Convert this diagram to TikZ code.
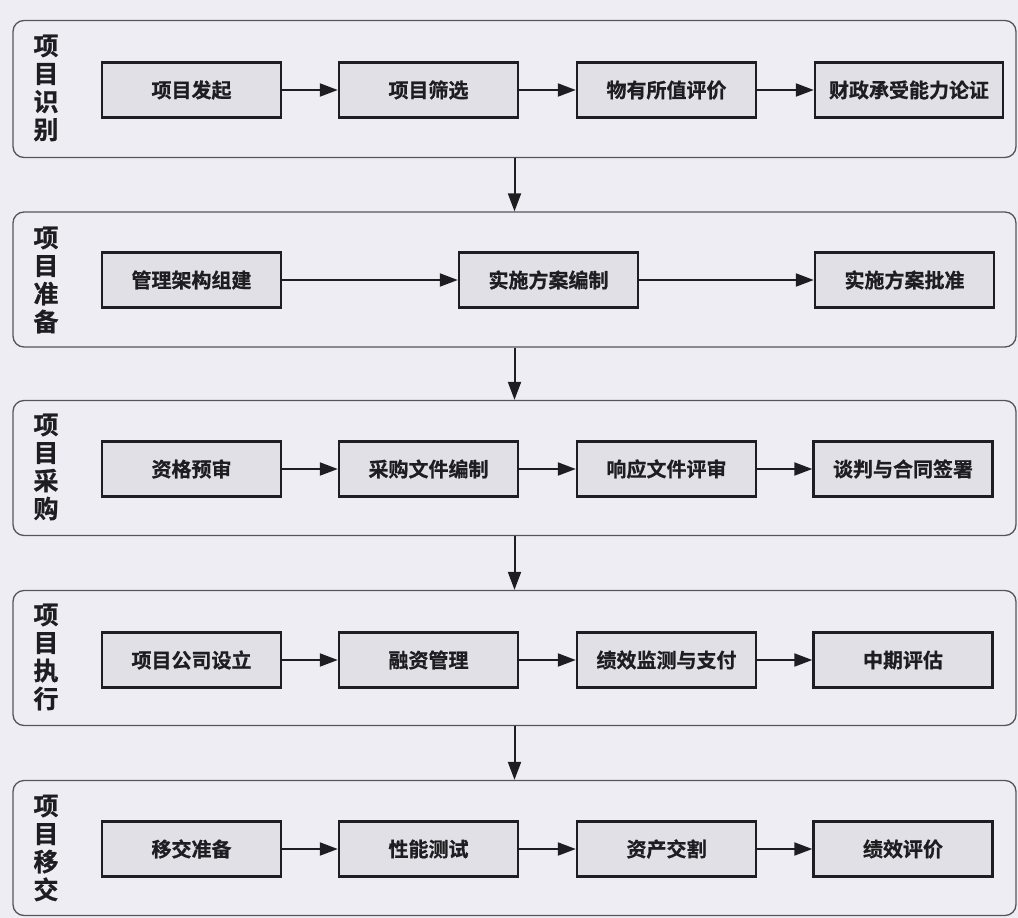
\documentclass[tikz,border=0pt]{standalone}
\usepackage{fontspec}
\newfontfamily\cjkb{Noto Sans CJK SC Bold}[FakeBold=0.8]
\usetikzlibrary{arrows.meta}
\definecolor{bgc}{HTML}{EEEDF4}
\definecolor{boxc}{HTML}{E1E0E6}
\definecolor{inkc}{HTML}{1E1E22}
\begin{document}
\begin{tikzpicture}[x=1pt,y=-1pt,
  panel/.style={draw=inkc!75, line width=1.3pt, rounded corners=11pt, fill=bgc,
    minimum width=1003pt, minimum height=135pt, inner sep=0pt},
  pbox/.style={draw=inkc, line width=2.4pt, fill=boxc, minimum width=179pt,
    minimum height=55pt, inner sep=0pt, text=inkc,
    font=\cjkb\fontsize{20}{24}\selectfont},
  lab/.style={align=center, text=inkc, inner sep=0pt,
    font=\cjkb\fontsize{25}{28}\selectfont},
  arr/.style={draw=inkc, line width=2pt, -{Triangle[length=18pt,width=13pt]}}]
\useasboundingbox (0,0) rectangle (1018,918);
\fill[bgc] (0,0) rectangle (1018,918);

% panels
\node[panel, minimum height=137pt] (p1) at (514.5,89) {};
\node[panel] (p2) at (514.5,279.5) {};
\node[panel] (p3) at (514.5,468) {};
\node[panel] (p4) at (514.5,658) {};
\node[panel] (p5) at (514.5,848) {};

% stage labels
\node[lab] (l1) at (46,88) {项\\目\\识\\别};
\node[lab] (l2) at (46,280) {项\\目\\准\\备};
\node[lab] (l3) at (46,467) {项\\目\\采\\购};
\node[lab] (l4) at (46,657) {项\\目\\执\\行};
\node[lab] (l5) at (46,848) {项\\目\\移\\交};

% row 1
\node[pbox] (a1) at (191.5,90) {项目发起};
\node[pbox] (a2) at (428.5,90) {项目筛选};
\node[pbox] (a3) at (666.5,90) {物有所值评价};
\node[pbox, minimum width=188pt] (a4) at (909,90) {财政承受能力论证};
% row 2
\node[pbox] (b1) at (191.5,280) {管理架构组建};
\node[pbox] (b2) at (548.5,280) {实施方案编制};
\node[pbox] (b3) at (904.5,280) {实施方案批准};
% row 3
\node[pbox] (c1) at (191.5,469) {资格预审};
\node[pbox] (c2) at (428.5,469) {采购文件编制};
\node[pbox] (c3) at (666.5,469) {响应文件评审};
\node[pbox] (c4) at (903,469) {谈判与合同签署};
% row 4
\node[pbox] (d1) at (191.5,660) {项目公司设立};
\node[pbox] (d2) at (428.5,660) {融资管理};
\node[pbox] (d3) at (666.5,660) {绩效监测与支付};
\node[pbox] (d4) at (903,660) {中期评估};
% row 5
\node[pbox] (e1) at (191.5,849) {移交准备};
\node[pbox] (e2) at (428.5,849) {性能测试};
\node[pbox] (e3) at (666.5,849) {资产交割};
\node[pbox] (e4) at (903,849) {绩效评价};

% horizontal arrows
\draw[arr] (a1) -- (a2);
\draw[arr] (a2) -- (a3);
\draw[arr] (a3) -- (a4);
\draw[arr] (b1) -- (b2);
\draw[arr] (b2) -- (b3);
\draw[arr] (c1) -- (c2);
\draw[arr] (c2) -- (c3);
\draw[arr] (c3) -- (c4);
\draw[arr] (d1) -- (d2);
\draw[arr] (d2) -- (d3);
\draw[arr] (d3) -- (d4);
\draw[arr] (e1) -- (e2);
\draw[arr] (e2) -- (e3);
\draw[arr] (e3) -- (e4);

% arrows between stages
\draw[arr] (p1) -- (p2);
\draw[arr] (p2) -- (p3);
\draw[arr] (p3) -- (p4);
\draw[arr] (p4) -- (p5);
\end{tikzpicture}
\end{document}
